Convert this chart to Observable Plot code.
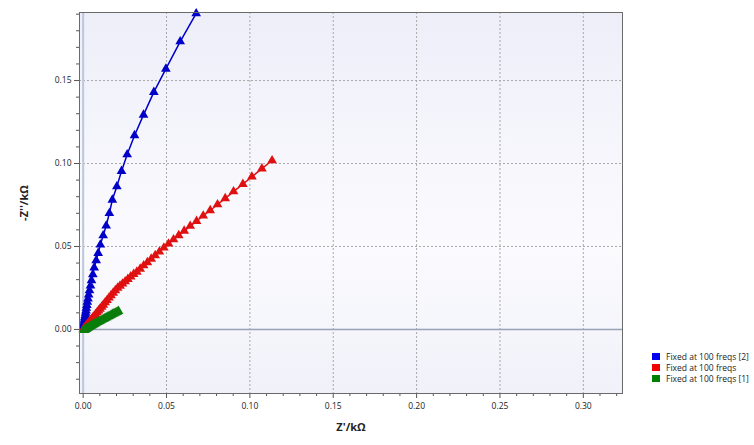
<!DOCTYPE html>
<html>
<head>
<meta charset="utf-8">
<script src="https://cdn.jsdelivr.net/npm/d3@7"></script>
<script src="https://cdn.jsdelivr.net/npm/@observablehq/plot@0.6"></script>
<style>
  html, body { margin: 0; padding: 0; background: #fff; }
  #wrap { position: relative; width: 754px; height: 445px; }
  #wrap svg { font-family: "Open Sans", "DejaVu Sans", sans-serif; }
  g[aria-label="x-axis label"] text, g[aria-label="y-axis label"] text { font-weight: bold; font-size: 11px; fill: #222; }
  .legend { position: absolute; left: 652px; top: 351px; font-family: "Open Sans", "DejaVu Sans", sans-serif; font-size: 8.5px; color: #222; line-height: 11px; }
  .legend div { display: flex; align-items: center; white-space: nowrap; }
  .legend span.sw { display: inline-block; width: 8px; height: 7px; margin-right: 6px; }
</style>
</head>
<body>
<div id="wrap"></div>
<script>
// Series names and colours
const seriesNames = ["Fixed at 100 freqs [2]", "Fixed at 100 freqs", "Fixed at 100 freqs [1]"];
const seriesColors = ["#0000c8", "#e01010", "#0a7d0a"];
const legendColors = ["#0000f0", "#f00000", "#008000"];

// Blue series [2]: Z' and -Z'' (kΩ)
const blueX = [0.0678,0.0582,0.0496,0.0424,0.0362,0.0308,0.0264,0.0230,0.0202,0.0175,0.0157,0.0138,0.0120,0.0103,0.0090,0.0078,0.0066,0.0058,0.0050,0.0044,0.0038,0.0033,0.0029,0.0025,0.0022,0.0019,0.0017,0.0015,0.0013,0.0011,0.0009,0.0008,0.0007,0.0006,0.0005,0.0004,0.0003,0.0002];
const blueY = [0.1904,0.1735,0.1570,0.1430,0.1293,0.1169,0.1054,0.0954,0.0861,0.0781,0.0700,0.0625,0.0566,0.0510,0.0460,0.0416,0.0372,0.0332,0.0296,0.0264,0.0235,0.0209,0.0186,0.0165,0.0146,0.0129,0.0113,0.0099,0.0086,0.0074,0.0063,0.0053,0.0044,0.0036,0.0028,0.0020,0.0013,0.0006];

// Red series
const redX = [0.1133,0.1072,0.1012,0.0958,0.0902,0.0852,0.0806,0.0762,0.0720,0.0680,0.0642,0.0606,0.0573,0.0542,0.0512,0.0484,0.0457,0.0432,0.0408,0.0385,0.0363,0.0342,0.0322,0.0303,0.0285,0.0268,0.0252,0.0236,0.0221,0.0207,0.0193,0.0180,0.0167,0.0155,0.0143,0.0132,0.0121,0.0111,0.0101,0.0092,0.0083,0.0074,0.0066,0.0058,0.0051,0.0044,0.0037,0.0031,0.0025,0.0019,0.0014,0.0009,0.0005,0.0002];
const redY = [0.1018,0.0969,0.0920,0.0876,0.0831,0.0790,0.0753,0.0717,0.0685,0.0653,0.0623,0.0594,0.0567,0.0542,0.0516,0.0492,0.0468,0.0446,0.0425,0.0404,0.0385,0.0365,0.0347,0.0333,0.0318,0.0303,0.0289,0.0275,0.0262,0.0250,0.0235,0.0220,0.0205,0.0191,0.0176,0.0162,0.0148,0.0136,0.0124,0.0113,0.0102,0.0091,0.0081,0.0071,0.0063,0.0055,0.0046,0.0039,0.0031,0.0024,0.0017,0.0011,0.0006,0.0002];

// Green series [1]
const greenX = [0.0212,0.0205,0.0198,0.0191,0.0184,0.0177,0.0170,0.0163,0.0156,0.0149,0.0142,0.0135,0.0128,0.0121,0.0114,0.0107,0.0100,0.0093,0.0087,0.0081,0.0075,0.0069,0.0063,0.0058,0.0053,0.0048,0.0043,0.0038,0.0034,0.0030,0.0026,0.0022,0.0018,0.0015,0.0012,0.0009,0.0006,0.0004,0.0002];
const greenY = [0.0110,0.0106,0.0103,0.0099,0.0095,0.0092,0.0088,0.0084,0.0080,0.0077,0.0073,0.0069,0.0065,0.0061,0.0058,0.0054,0.0050,0.0046,0.0043,0.0040,0.0036,0.0033,0.0030,0.0027,0.0024,0.0021,0.0018,0.0015,0.0013,0.0010,0.0008,0.0005,0.0003,0.0001,-0.0001,-0.0002,-0.0003,-0.0004,-0.0005];

// Axis ticks
const xTicks = [0, 0.05, 0.10, 0.15, 0.20, 0.25, 0.30];
const yTicks = [0, 0.05, 0.10, 0.15];
const xMinor = [0.01,0.02,0.03,0.04,0.06,0.07,0.08,0.09,0.11,0.12,0.13,0.14,0.16,0.17,0.18,0.19,0.21,0.22,0.23,0.24,0.26,0.27,0.28,0.29,0.31,0.32];
const yMinor = [-0.03,-0.02,-0.01,0.01,0.02,0.03,0.04,0.06,0.07,0.08,0.09,0.11,0.12,0.13,0.14,0.16,0.17,0.18,0.19];

const xDomain = [-0.0022, 0.3235];
const yDomain = [-0.0386, 0.191];

const toRows = (xs, ys) => xs.map((x, i) => ({x, y: ys[i]}));
const series = [toRows(blueX, blueY), toRows(redX, redY), toRows(greenX, greenY)];

const marks = [
  Plot.frame({fill: "url(#bgGrad)"}),
  Plot.gridX(xTicks, {stroke: "#a8a8a8", strokeOpacity: 1, strokeDasharray: "2,2"}),
  Plot.gridY(yTicks, {stroke: "#a8a8a8", strokeOpacity: 1, strokeDasharray: "2,2"}),
  Plot.ruleX([0], {stroke: "#bcc8de", strokeWidth: 2}),
  Plot.ruleY([0], {stroke: "#98a4b6", strokeWidth: 1.5}),
  Plot.axisX(xMinor, {tickSize: 3, tickFormat: () => "", stroke: "#555", label: null}),
  Plot.axisY(yMinor, {tickSize: 3, tickFormat: () => "", stroke: "#555", label: null}),
  Plot.axisX(xTicks, {tickSize: 5, tickPadding: 4, tickFormat: d3.format(".2f"), fontSize: 8.5, fill: "#222", stroke: "#555",
    label: "Z'/kΩ", labelAnchor: "center", labelArrow: "none", labelOffset: 37}),
  Plot.axisY(yTicks, {tickSize: 5, tickPadding: 3, tickFormat: d3.format(".2f"), fontSize: 8.5, fill: "#222", stroke: "#555",
    label: "-Z''/kΩ", labelAnchor: "center", labelArrow: "none", labelOffset: 59}),
];
series.forEach((rows, i) => {
  marks.push(Plot.line(rows, {x: "x", y: "y", stroke: seriesColors[i], strokeWidth: i === 2 ? 2.5 : 1.5}));
  marks.push(Plot.dot(rows, {x: "x", y: "y", symbol: "triangle", r: 3.6, fill: seriesColors[i], stroke: "none"}));
});
marks.push(Plot.frame({stroke: "#6a6a6a", strokeWidth: 1}));

const chart = Plot.plot({
  width: 754,
  height: 445,
  marginLeft: 79,
  marginRight: 132,
  marginTop: 12,
  marginBottom: 52,
  x: {domain: xDomain},
  y: {domain: yDomain},
  marks
});

const defs = d3.select(chart).insert("defs", ":first-child");
const grad = defs.append("linearGradient").attr("id", "bgGrad").attr("x1", 0).attr("y1", 0).attr("x2", 0).attr("y2", 1);
grad.append("stop").attr("offset", "0%").attr("stop-color", "#eeeef9");
grad.append("stop").attr("offset", "62%").attr("stop-color", "#fbfbfe");
grad.append("stop").attr("offset", "100%").attr("stop-color", "#f0f1f9");

const wrap = document.getElementById("wrap");
wrap.appendChild(chart);

const legend = document.createElement("div");
legend.className = "legend";
seriesNames.forEach((name, i) => {
  const row = document.createElement("div");
  const sw = document.createElement("span");
  sw.className = "sw";
  sw.style.background = legendColors[i];
  row.appendChild(sw);
  row.appendChild(document.createTextNode(name));
  legend.appendChild(row);
});
wrap.appendChild(legend);
</script>
</body>
</html>
